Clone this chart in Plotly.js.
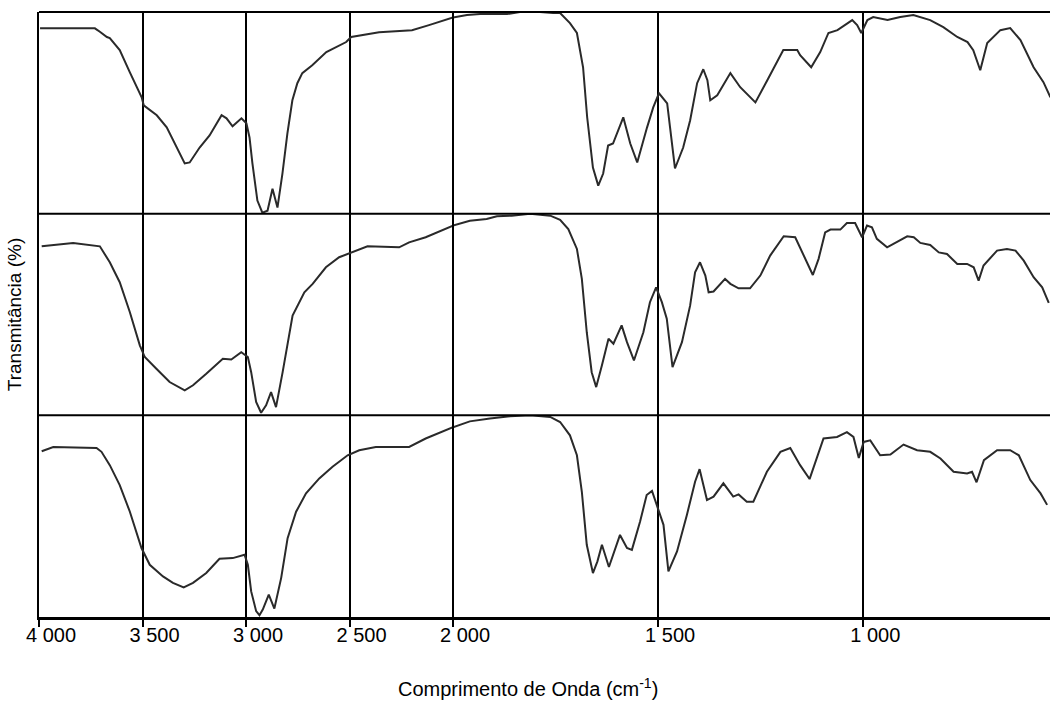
<!DOCTYPE html>
<html>
<head>
<meta charset="utf-8">
<script src="https://cdn.plot.ly/plotly-3.0.1.min.js"></script>
<style>html,body{margin:0;padding:0;background:#fff;}#chart{width:1056px;height:703px;}</style>
</head>
<body>
<div id="chart"></div>
<script>
// Wavenumber (cm-1) and transmittance (% of panel) for the three spectra (top, middle, bottom)
const wnA = [3995,3730,3706,3672,3658,3610,3561,3504,3494,3431,3383,3335,3296,3272,3224,3176,3118,3094,3065,3022,2998,2983,2969,2945,2921,2896,2872,2848,2824,2800,2776,2752,2728,2680,2612,2516,2492,2357,2198,2116,2034,2000,1993,1966,1934,1868,1837,1788,1756,1739,1715,1698,1683,1673,1659,1646,1634,1622,1610,1585,1568,1551,1527,1512,1498,1478,1471,1459,1439,1422,1405,1390,1380,1373,1356,1324,1300,1263,1234,1195,1161,1154,1127,1105,1085,1063,1027,1015,1005,990,976,941,910,878,837,805,771,746,732,715,698,666,642,617,585,561,544];
const tA  = [91.9,91.9,90.2,87.6,87.1,81.1,70.1,57.7,53.7,48.8,42.8,32.8,24.9,25.4,32.8,38.8,48.8,47.3,43.3,47.3,44.8,37.8,24.9,6.5,0.5,1.5,12.4,3.0,19.9,39.8,56.2,64.7,69.7,73.6,80.1,85.1,87.6,90.0,91.0,93.5,96.0,97.3,97.5,98.5,99.0,99.0,100,100,99.5,99.5,94.5,89.6,72.6,47.8,22.9,13.9,19.9,33.8,34.8,47.8,34.8,25.4,42.8,52.7,59.7,54.7,42.8,22.4,32.8,46.3,64.7,71.6,66.2,56.2,58.7,69.7,62.7,55.2,66.2,81.1,81.1,78.6,72.6,80.1,89.6,91.0,96.0,93.5,89.6,96.0,97.5,96.0,97.5,98.5,96.0,92.5,87.6,85.1,81.1,71.1,84.6,91.0,92.0,86.1,72.6,65.2,57.7];

const wnB = [3987,3835,3706,3658,3610,3561,3513,3489,3433,3369,3296,3256,3192,3112,3071,3023,2991,2975,2951,2927,2903,2879,2855,2823,2775,2718,2678,2614,2550,2493,2413,2260,2212,2132,2000,1959,1918,1893,1857,1812,1763,1739,1719,1698,1686,1674,1662,1651,1637,1621,1609,1589,1576,1559,1536,1520,1505,1491,1479,1465,1442,1422,1410,1398,1385,1377,1365,1337,1324,1304,1276,1251,1227,1194,1166,1146,1123,1109,1093,1080,1056,1040,1020,1003,991,979,967,942,918,893,877,861,837,816,796,771,747,731,719,707,674,650,629,609,585,564,548];
const tB  = [83.8,85.5,83.8,75.9,66.0,51.1,34.7,28.9,23.1,16.5,12.4,14.9,20.6,28.1,27.7,31.3,28.9,21.4,6.6,1.3,5.0,11.5,4.1,21.4,49.5,61.0,65.2,73.4,78.4,80.8,83.8,83.3,85.8,88.3,94.1,96.5,97.4,98.7,99.0,100,99.0,97.0,92.4,82.5,67.7,41.2,21.4,14.0,24.8,38.0,35.5,44.6,36.3,27.2,41.2,56.1,63.5,56.1,47.9,23.9,36.3,54.5,70.9,75.9,69.3,61.0,61.4,67.7,65.2,63.0,63.0,69.3,79.2,88.8,88.3,79.2,69.6,77.6,90.7,92.1,92.1,95.4,95.4,88.3,94.1,93.2,87.5,83.3,85.8,88.8,88.3,85.5,84.5,80.8,80.0,75.1,75.1,73.4,66.8,74.3,81.7,82.5,81.7,76.7,68.5,63.5,55.8];

const wnC = [3987,3931,3722,3698,3658,3610,3561,3529,3505,3465,3401,3353,3301,3256,3192,3128,3064,3007,2991,2975,2951,2935,2919,2890,2863,2830,2799,2758,2710,2646,2582,2509,2453,2373,2212,2132,2019,2000,1959,1910,1861,1812,1763,1739,1715,1698,1686,1674,1659,1648,1637,1620,1605,1593,1576,1564,1544,1528,1515,1503,1487,1475,1454,1430,1410,1399,1389,1381,1365,1341,1317,1304,1284,1268,1235,1202,1178,1154,1131,1117,1097,1064,1040,1024,1011,999,983,959,934,902,869,837,812,780,747,735,724,706,674,642,621,593,568,552];
const tC  = [82.2,84.3,83.8,81.9,75.3,65.4,52.2,41.6,34.2,25.9,20.1,16.9,14.7,16.9,21.8,28.9,29.2,30.9,25.9,12.7,2.9,0.9,3.7,11.1,4.2,19.4,39.1,52.2,61.3,68.7,74.5,80.2,82.7,84.3,84.3,88.5,93.4,94.1,97.0,98.4,99.5,100,99.2,96.7,90.1,80.2,62.1,35.8,21.8,27.6,35.8,24.8,34.2,40.7,34.2,33.3,47.3,60.5,62.5,55.6,45.7,22.6,32.5,50.6,67.1,73.3,65.4,58.0,59.7,66.3,59.7,60.8,57.2,57.2,72.0,81.9,83.8,75.3,68.4,76.9,88.5,89.3,91.7,89.3,78.9,86.8,87.6,80.2,80.6,85.5,82.7,81.9,78.6,72.0,71.2,72.0,66.8,77.8,82.7,82.7,80.2,67.9,61.3,55.6];

// Axis ticks
const highTicks = [4000, 3500, 3000, 2500, 2000];
const highLabels = ["4 000", "3 500", "3 000", "2 500", "2 000"];
const lowTicks = [1500, 1000];
const lowLabels = ["1 500", "1 000"];

const SPLIT = 2000;
const spectra = [[wnA, tA, 'y'], [wnB, tB, 'y2'], [wnC, tC, 'y3']];
const lineStyle = {color: '#2a2a2a', width: 2};
const traces = [];
spectra.forEach(([wn, t, ya]) => {
  const hx = [], hy = [], lx = [], ly = [];
  wn.forEach((w, i) => {
    if (w >= SPLIT) { hx.push(w); hy.push(t[i]); }
    if (w <= SPLIT) { lx.push(w); ly.push(t[i]); }
  });
  traces.push({x: hx, y: hy, xaxis: 'x', yaxis: ya, type: 'scatter', mode: 'lines', line: lineStyle, hoverinfo: 'skip'});
  traces.push({x: lx, y: ly, xaxis: 'x2', yaxis: ya, type: 'scatter', mode: 'lines', line: lineStyle, hoverinfo: 'skip'});
});

const FONT = 'Liberation Sans, Arial, sans-serif';
const xCommon = {
  anchor: 'y3', ticks: 'outside', ticklen: 7, tickwidth: 2, tickcolor: '#000',
  showgrid: true, gridcolor: '#000', gridwidth: 2,
  showline: true, linecolor: '#000', linewidth: 2.5,
  zeroline: false, tickmode: 'array', ticklabelshift: -12, ticklabelstandoff: -9,
  tickfont: {family: FONT, size: 20, color: '#000'}
};
const yCommon = {
  anchor: 'x', range: [0, 100], showline: true, linecolor: '#000', linewidth: 2,
  showticklabels: false, ticks: '', showgrid: false, zeroline: false, fixedrange: true
};
const split = 414 / 1011;
const sepLine = {color: '#000', width: 2};
const layout = {
  width: 1056, height: 703,
  margin: {l: 39, r: 6, t: 12, b: 85.5},
  paper_bgcolor: '#fff', plot_bgcolor: '#fff',
  showlegend: false,
  font: {family: FONT, color: '#000'},
  xaxis: Object.assign({}, xCommon, {domain: [0, split], range: [4000, 2000], tickvals: highTicks, ticktext: highLabels}),
  xaxis2: Object.assign({}, xCommon, {domain: [split, 1], range: [2000, 545], tickvals: lowTicks, ticktext: lowLabels}),
  yaxis: Object.assign({}, yCommon, {domain: [2/3, 1]}),
  yaxis2: Object.assign({}, yCommon, {domain: [1/3, 2/3], title: {text: 'Transmitância (%)', font: {family: FONT, size: 19, color: '#000'}, standoff: 10}}),
  yaxis3: Object.assign({}, yCommon, {domain: [0, 1/3]}),
  shapes: [
    // grid line at 2000 cm-1: boundary between the two wavenumber scales
    {type: 'line', xref: 'paper', yref: 'paper', x0: split, x1: split, y0: 0, y1: 1, line: sepLine},
    {type: 'line', xref: 'paper', yref: 'paper', x0: 0, x1: 1, y0: 1, y1: 1, line: sepLine},
    {type: 'line', xref: 'paper', yref: 'paper', x0: 0, x1: 1, y0: 2/3, y1: 2/3, line: sepLine},
    {type: 'line', xref: 'paper', yref: 'paper', x0: 0, x1: 1, y0: 1/3, y1: 1/3, line: sepLine}
  ],
  annotations: [{
    text: 'Comprimento de Onda (cm<sup>-1</sup>)', xref: 'paper', yref: 'paper',
    x: 0.4837, y: -0.1164, xanchor: 'center', yanchor: 'middle', showarrow: false,
    font: {family: FONT, size: 20, color: '#000'}
  }]
};
Plotly.newPlot('chart', traces, layout, {displayModeBar: false, staticPlot: true});
</script>
</body>
</html>
